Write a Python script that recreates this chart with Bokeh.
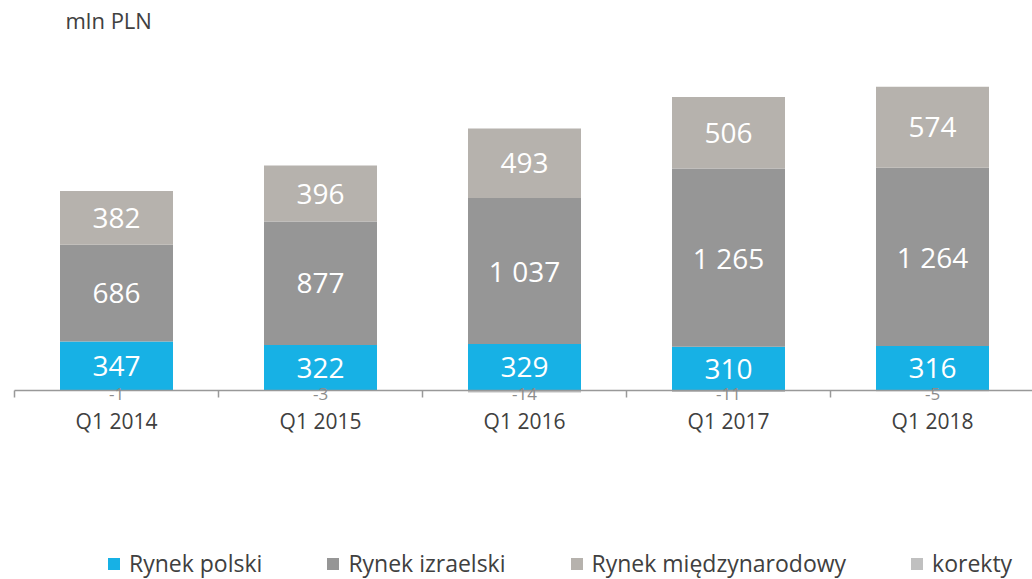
from bokeh.plotting import figure
from bokeh.models import Range1d, Legend, LegendItem, ColumnDataSource
from bokeh.core.properties import value
from bokeh.embed import file_html
from bokeh.resources import INLINE

# ---- data ----
categories = ["Q1 2014", "Q1 2015", "Q1 2016", "Q1 2017", "Q1 2018"]
polski = [347, 322, 329, 310, 316]
izraelski = [686, 877, 1037, 1265, 1264]
miedzynarodowy = [382, 396, 493, 506, 574]
korekty = [-1, -3, -14, -11, -5]
series_names = ["Rynek polski", "Rynek izraelski", "Rynek międzynarodowy", "korekty"]
unit_label = "mln PLN"

# ---- style ----
colors = ["#17b1e5", "#969696", "#b6b2ad", "#c0c0c0"]
FONT = "Open Sans"
W, H = 1032, 579
PX_PER_CAT = 204.0
PX_PER_UNIT = 0.141
AXIS_PX = 390          # axis line, px from figure top
FIRST_CENTER_PX = 116  # first category center, px from figure left

def fmt(v):
    s = f"{abs(v):,}".replace(",", " ")
    return s if v >= 0 else "-" + s

n = len(categories)
xs = [i + 0.5 for i in range(n)]
x_start = 0.5 - FIRST_CENTER_PX / PX_PER_CAT
x_end = x_start + W / PX_PER_CAT
y_end = AXIS_PX / PX_PER_UNIT
y_start = -(H - AXIS_PX) / PX_PER_UNIT

p = figure(width=W, height=H, output_backend="svg", toolbar_location=None,
           x_range=Range1d(x_start, x_end), y_range=Range1d(y_start, y_end),
           x_axis_type=None, y_axis_type=None, min_border=0,
           outline_line_color=None)
p.xgrid.visible = False
p.ygrid.visible = False

bw = 113 / PX_PER_CAT
b1 = [0] * n
t1 = polski
b2 = t1
t2 = [a + b for a, b in zip(t1, izraelski)]
b3 = t2
t3 = [a + b for a, b in zip(t2, miedzynarodowy)]

src = ColumnDataSource(dict(x=xs, b1=b1, t1=t1, b2=b2, t2=t2, b3=b3, t3=t3,
                            zero=[0] * n, k=korekty,
                            m1=[(a + b) / 2 for a, b in zip(b1, t1)],
                            m2=[(a + b) / 2 for a, b in zip(b2, t2)],
                            m3=[(a + b) / 2 for a, b in zip(b3, t3)],
                            l1=[fmt(v) for v in polski],
                            l2=[fmt(v) for v in izraelski],
                            l3=[fmt(v) for v in miedzynarodowy],
                            lk=[fmt(v) for v in korekty],
                            cat=categories))

r1 = p.vbar(x="x", bottom="b1", top="t1", width=bw, source=src,
            fill_color=colors[0], line_color=None)
r2 = p.vbar(x="x", bottom="b2", top="t2", width=bw, source=src,
            fill_color=colors[1], line_color=None)
r3 = p.vbar(x="x", bottom="b3", top="t3", width=bw, source=src,
            fill_color=colors[2], line_color=None)
r4 = p.vbar(x="x", bottom="k", top="zero", width=bw, source=src,
            fill_color=colors[3], line_color=None)

for col, ycol in (("l1", "m1"), ("l2", "m2"), ("l3", "m3")):
    p.text(x="x", y=ycol, text=col, source=src, text_align="center",
           text_baseline="middle", text_color="white",
           text_font=value(FONT), text_font_size="28px")

# axis line and category ticks
p.segment(x0=[0], y0=[0], x1=[x_end], y1=[0], line_color="#999999", line_width=1.5)
bounds = list(range(n + 1))
p.segment(x0=bounds, y0=[0] * len(bounds), x1=bounds,
          y1=[-7 / PX_PER_UNIT] * len(bounds), line_color="#999999", line_width=1.5)

# corrections labels
p.text(x="x", y="zero", text="lk", source=src, text_align="center",
       text_baseline="middle", text_color="#8c8c8c", y_offset=3,
       text_font=value(FONT), text_font_size="17px")

# category labels
p.text(x="x", y="zero", text="cat", source=src, text_align="center",
       text_baseline="middle", text_color="#404040", y_offset=30,
       text_font=value(FONT), text_font_size="21px")

# unit label
p.text(x=[x_start + 65 / PX_PER_CAT], y=[(AXIS_PX - 19) / PX_PER_UNIT], text=[unit_label],
       text_align="left", text_baseline="middle", text_color="#404040",
       text_font=value(FONT), text_font_size="22px")

legend = Legend(items=[LegendItem(label=series_names[i], renderers=[r])
                       for i, r in enumerate([r1, r2, r3, r4])],
                orientation="horizontal", location=(106, 0),
                glyph_width=15, glyph_height=15, label_standoff=8, spacing=63,
                label_height=15, padding=0, margin=0,
                border_line_color=None, background_fill_alpha=0,
                label_text_font=FONT, label_text_font_size="23px",
                label_text_color="#404040")
p.add_layout(legend)

open("out.html", "w").write(file_html(p, INLINE))
